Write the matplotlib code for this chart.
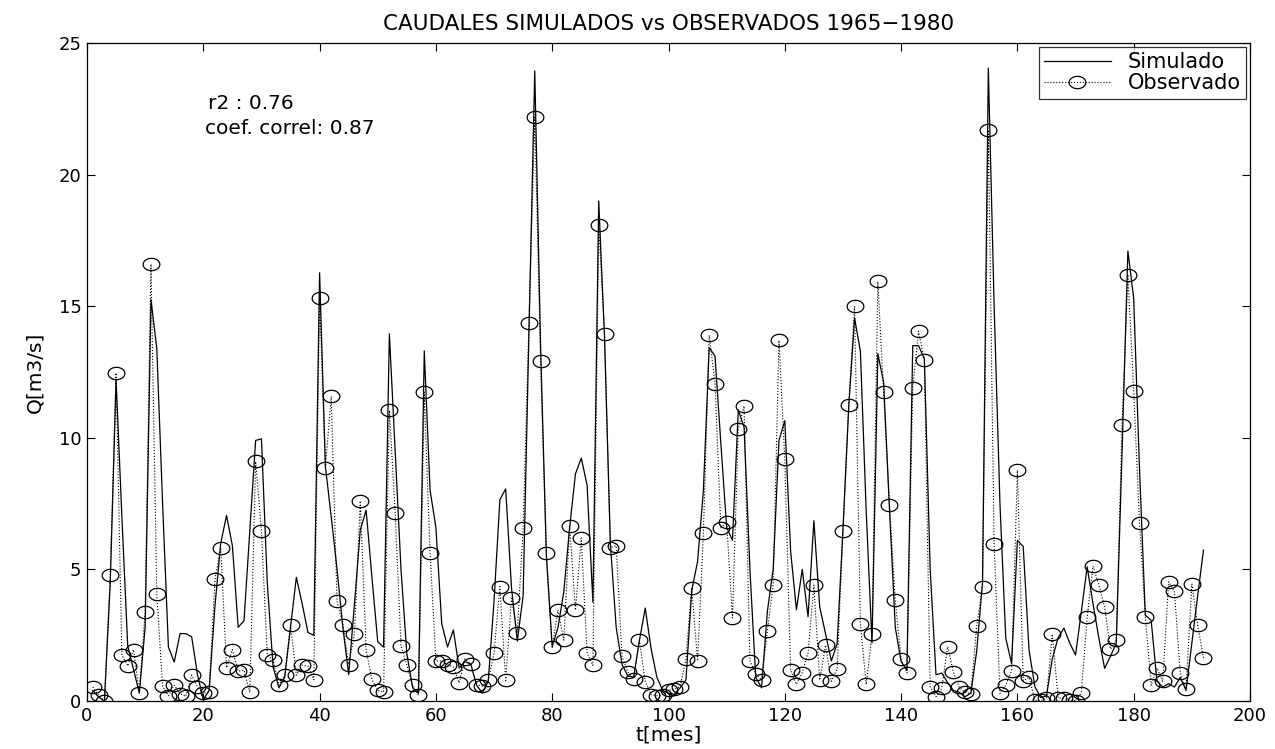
import numpy as np
import matplotlib
matplotlib.use("Agg")
import matplotlib.pyplot as plt
from matplotlib.path import Path

# ===== DATA =====
meses = np.arange(1, 193)

simulado = [
    0.4, 0.15, 0.0, 4.5, 12.2, 7.0, 2.1, 1.2, 0.3, 2.8,
    15.25, 13.4, 7.5, 2.05, 1.48, 2.56, 2.56, 2.44, 1.0, 0.05,
    0.4, 3.6, 6.0, 7.05, 5.9, 2.8, 3.05, 6.5, 9.9, 9.96,
    4.5, 1.3, 0.5, 0.9, 2.8, 4.7, 3.7, 2.6, 2.5, 16.27,
    8.9, 7.0, 5.0, 2.8, 1.0, 3.7, 6.5, 7.25, 4.7, 2.25,
    2.05, 13.95, 9.5, 5.0, 1.8, 0.5, 0.3, 13.3, 8.0, 6.6,
    2.94, 2.05, 2.7, 1.25, 1.5, 1.4, 0.6, 0.3, 0.75, 3.8,
    7.65, 8.06, 4.3, 2.28, 4.0, 14.0, 23.94, 13.5, 5.5, 2.07,
    2.8, 4.15, 6.6, 8.63, 9.23, 8.2, 3.75, 19.0, 13.8, 6.0,
    2.8, 1.4, 0.95, 0.9, 2.3, 3.53, 2.0, 0.9, 0.4, 0.3,
    0.25, 0.5, 0.8, 4.2, 5.3, 8.0, 13.43, 13.1, 9.8, 6.6,
    6.1, 11.06, 10.4, 5.0, 0.9, 0.5, 3.4, 5.0, 9.9, 10.65,
    5.7, 3.47, 5.0, 3.2, 6.85, 3.58, 2.56, 1.52, 2.18, 6.5,
    11.2, 14.55, 13.28, 7.2, 2.2, 13.2, 12.1, 7.3, 2.8, 1.5,
    1.17, 13.5, 13.5, 13.0, 5.0, 1.0, 1.06, 0.7, 0.4, 0.33,
    0.16, 0.3, 1.9, 4.5, 24.05, 15.0, 7.5, 2.38, 1.43, 6.1,
    5.87, 1.94, 0.55, 0.13, 0.19, 1.6, 2.4, 2.77, 2.2, 1.75,
    3.4, 5.1, 3.7, 2.4, 1.24, 1.7, 2.2, 9.5, 17.1, 15.3,
    8.8, 3.26, 3.07, 0.75, 0.53, 0.66, 0.53, 0.9, 0.4, 2.2,
    4.0, 5.73,
]

observado = [
    0.53, 0.22, 0.0, 4.8, 12.46, 1.74, 1.33, 1.95, 0.32, 3.39,
    16.6, 4.06, 0.56, 0.2, 0.6, 0.28, 0.18, 0.98, 0.53, 0.3,
    0.34, 4.62, 5.82, 1.26, 1.95, 1.13, 1.17, 0.33, 9.1, 6.46,
    1.74, 1.55, 0.6, 0.98, 2.88, 0.98, 1.36, 1.32, 0.81, 15.3,
    8.87, 11.57, 3.79, 2.9, 1.38, 2.56, 7.6, 1.93, 0.82, 0.4,
    0.34, 11.04, 7.13, 2.09, 1.36, 0.6, 0.22, 11.73, 5.61, 1.52,
    1.52, 1.38, 1.29, 0.69, 1.61, 1.4, 0.62, 0.57, 0.78, 1.82,
    4.35, 0.78, 3.9, 2.6, 6.56, 14.36, 22.18, 12.9, 5.62, 2.04,
    3.45, 2.31, 6.64, 3.45, 6.19, 1.82, 1.35, 18.1, 13.96, 5.83,
    5.9, 1.71, 1.1, 0.85, 2.31, 0.73, 0.24, 0.2, 0.24, 0.4,
    0.45, 0.55, 1.59, 4.31, 1.52, 6.39, 13.9, 12.05, 6.58, 6.79,
    3.16, 10.35, 11.21, 1.52, 1.04, 0.79, 2.65, 4.4, 13.7, 9.2,
    1.17, 0.63, 1.08, 1.83, 4.4, 0.79, 2.12, 0.75, 1.23, 6.47,
    11.25, 14.99, 2.92, 0.63, 2.54, 15.94, 11.73, 7.45, 3.83, 1.59,
    1.07, 11.9, 14.05, 12.97, 0.54, 0.16, 0.49, 2.07, 1.09, 0.52,
    0.33, 0.28, 2.85, 4.35, 21.7, 5.95, 0.29, 0.6, 1.15, 8.76,
    0.77, 0.9, 0.02, 0.02, 0.1, 2.54, 0.12, 0.1, 0.04, 0.01,
    0.32, 3.18, 5.12, 4.42, 3.57, 1.97, 2.31, 10.49, 16.2, 11.76,
    6.77, 3.2, 0.6, 1.25, 0.75, 4.53, 4.17, 1.08, 0.47, 4.44,
    2.88, 1.64,
]

x_ticks = [0, 20, 40, 60, 80, 100, 120, 140, 160, 180, 200]
y_ticks = [0, 5, 10, 15, 20, 25]

# ===== STYLE =====
# wide sans font, closer to the horizontally stretched MATLAB export
plt.rcParams['font.family'] = ['DejaVu Sans']
FS = 14.5

# flattened circle, like the stretched MATLAB markers
th = np.linspace(0, 2 * np.pi, 60)
elipse = Path(np.column_stack([np.cos(th), 0.74 * np.sin(th)]), closed=True)

fig = plt.figure(figsize=(12.75, 7.49), dpi=100)
ax = fig.add_axes([87 / 1275, 48 / 749, (1250 - 87) / 1275, (701 - 43) / 749])

ax.plot(meses, simulado, '-', color='black', lw=0.9, label='Simulado')
ax.plot(meses, observado, ':', color='black', lw=0.8,
        marker=elipse, ms=12, mfc='none', mec='black', mew=0.9,
        label='Observado')

ax.set_xlim(0, 200)
ax.set_ylim(0, 25)
ax.set_xticks(x_ticks)
ax.set_yticks(y_ticks)
ax.tick_params(direction='in', top=True, right=True, length=6, width=0.8,
               labelsize=13, pad=4)
for s in ax.spines.values():
    s.set_linewidth(0.9)

ax.set_title('CAUDALES SIMULADOS vs OBSERVADOS 1965\u22121980', fontsize=15.5, pad=9)
ax.set_xlabel('t[mes]', fontsize=FS, labelpad=1)
ax.set_ylabel('Q[m3/s]', fontsize=FS, labelpad=10)

ax.text(20.8, 22.7, 'r2 : 0.76', fontsize=FS, va='center', ha='left')
ax.text(20.3, 21.75, 'coef. correl: 0.87', fontsize=FS, va='center', ha='left')

leg = ax.legend(loc='upper right', fontsize=15, frameon=True, fancybox=False,
                borderaxespad=0.2, handlelength=3.2, borderpad=0.25,
                labelspacing=0.05, handletextpad=0.8)
leg.get_frame().set_edgecolor('black')
leg.get_frame().set_linewidth(0.9)

fig.savefig('out.png', dpi=100)
